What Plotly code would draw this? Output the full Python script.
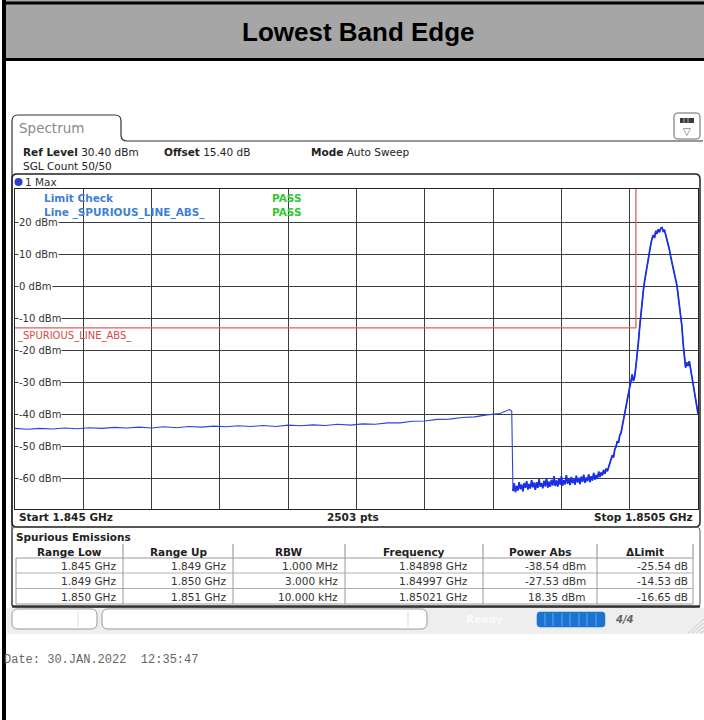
import plotly.graph_objects as go

# ---------------- data ----------------
start_mhz = 1845.0
stop_mhz = 1850.5
ref_level_dbm = 30.4
range_db = 100.0
y_grid_levels = [20, 10, 0, -10, -20, -30, -40, -50, -60]
y_grid_labels = ["20 dBm", "10 dBm", "0 dBm", "-10 dBm", "-20 dBm",
                 "-30 dBm", "-40 dBm", "-50 dBm", "-60 dBm"]

# trace, segment 1 : 1.845 .. 1.849 GHz (RBW 1 MHz)
seg1_mhz = [1845.0, 1845.1, 1845.2, 1845.3, 1845.4, 1845.5, 1845.6, 1845.7, 1845.8, 1845.9,
            1846.0, 1846.1, 1846.2, 1846.3, 1846.4, 1846.5, 1846.6, 1846.7, 1846.8, 1846.9,
            1847.0, 1847.1, 1847.2, 1847.3, 1847.4, 1847.5, 1847.6, 1847.7, 1847.8, 1847.9,
            1848.0, 1848.1, 1848.2, 1848.3, 1848.4, 1848.5, 1848.6, 1848.7, 1848.8, 1848.9,
            1848.98, 1849.0]
seg1_dbm = [-44.4, -44.7, -44.4, -44.6, -44.3, -44.5, -44.2, -44.4, -44.1, -44.3,
            -44.0, -44.3, -43.9, -44.2, -43.8, -44.0, -43.7, -43.9, -43.6, -43.8,
            -43.5, -43.8, -43.4, -43.6, -43.3, -43.5, -43.1, -43.4, -43.0, -43.1,
            -42.7, -42.7, -42.2, -42.1, -41.6, -41.5, -41.0, -40.8, -40.2, -39.8,
            -38.54, -39.0]

# trace, segment 2 : 1.849 .. 1.8498 GHz (RBW 3 kHz noise floor)
seg2_mhz = [1849.01, 1849.02, 1849.03, 1849.04, 1849.05, 1849.06, 1849.07, 1849.08, 1849.09, 1849.10,
            1849.11, 1849.12, 1849.13, 1849.14, 1849.15, 1849.16, 1849.17, 1849.18, 1849.19, 1849.20,
            1849.21, 1849.22, 1849.23, 1849.24, 1849.25, 1849.26, 1849.27, 1849.28, 1849.29, 1849.30,
            1849.31, 1849.32, 1849.33, 1849.34, 1849.35, 1849.36, 1849.37, 1849.38, 1849.39, 1849.40,
            1849.41, 1849.42, 1849.43, 1849.44, 1849.45, 1849.46, 1849.47, 1849.48, 1849.49, 1849.50,
            1849.51, 1849.52, 1849.53, 1849.54, 1849.55, 1849.56, 1849.57, 1849.58, 1849.59, 1849.60,
            1849.61, 1849.62, 1849.63, 1849.64, 1849.65, 1849.66, 1849.67, 1849.68, 1849.69, 1849.70,
            1849.71, 1849.72, 1849.73, 1849.74, 1849.75, 1849.76, 1849.77]
seg2_dbm = [-64.0, -61.6, -64.3, -62.4, -63.8, -61.2, -63.4, -62.0, -64.1, -61.5,
            -63.0, -60.9, -63.5, -61.8, -63.2, -60.6, -62.8, -61.4, -63.6, -61.2,
            -63.0, -60.3, -62.6, -61.5, -63.1, -60.8, -62.5, -60.0, -62.9, -61.1,
            -62.7, -60.5, -62.2, -59.3, -62.4, -60.7, -62.6, -60.0, -62.0, -59.4,
            -62.3, -60.6, -61.9, -59.0, -61.7, -60.2, -62.1, -59.6, -61.5, -60.3,
            -62.0, -59.2, -61.3, -59.9, -61.8, -59.5, -61.1, -58.9, -61.4, -59.8,
            -60.9, -58.8, -61.2, -59.4, -60.7, -58.3, -60.4, -59.0, -60.2, -57.9,
            -59.6, -58.2, -59.1, -57.4, -58.6, -57.0, -57.8]

# trace, segment 3 : 1.8498 .. 1.8505 GHz (carrier)
seg3_mhz = [1849.78, 1849.79, 1849.80, 1849.81, 1849.82, 1849.83, 1849.84, 1849.85, 1849.86, 1849.87,
            1849.88, 1849.89, 1849.90, 1849.91, 1849.92, 1849.93, 1849.94, 1849.95, 1849.96, 1849.97,
            1849.98, 1849.99, 1850.00, 1850.01, 1850.02, 1850.03, 1850.04, 1850.05, 1850.06, 1850.07,
            1850.08, 1850.09, 1850.10, 1850.11, 1850.12, 1850.13, 1850.14, 1850.15, 1850.16, 1850.17,
            1850.18, 1850.19, 1850.20, 1850.21, 1850.22, 1850.23, 1850.24, 1850.25, 1850.26, 1850.27,
            1850.28, 1850.29, 1850.30, 1850.31, 1850.32, 1850.33, 1850.34, 1850.35, 1850.36, 1850.37,
            1850.38, 1850.39, 1850.40, 1850.41, 1850.42, 1850.43, 1850.44, 1850.45, 1850.46, 1850.47,
            1850.48, 1850.49, 1850.50]
seg3_dbm = [-56.5, -55.2, -54.6, -52.8, -53.5, -50.9, -50.2, -48.4, -48.9, -46.5,
            -45.8, -43.6, -42.1, -39.8, -38.2, -35.6, -33.1, -31.5, -29.8, -27.53,
            -29.6, -28.2, -25.0, -21.8, -17.5, -12.9, -8.6, -4.7, -1.3, 1.6,
            4.2, 6.9, 9.0, 11.6, 13.2, 14.9, 16.0, 15.1, 17.3, 16.4,
            17.8, 16.9, 18.1, 18.35, 17.2, 17.6, 16.0, 15.2, 13.6, 11.4,
            9.3, 7.2, 5.6, 3.9, 2.1, 0.4, -2.6, -5.1, -8.9, -12.4,
            -17.8, -23.2, -25.4, -23.8, -24.9, -23.4, -25.8, -27.9, -29.6, -32.4,
            -34.8, -37.6, -39.8]

# limit line _SPURIOUS_LINE_ABS_
limit_mhz = [1845.0, 1850.0, 1850.0, 1850.5]
limit_dbm = [-13.0, -13.0, 45.0, 45.0]

# spurious emissions table
table_header = ["Range Low", "Range Up", "RBW", "Frequency", "Power Abs", "\u0394Limit"]
range_low = ["1.845 GHz", "1.849 GHz", "1.850 GHz"]
range_up = ["1.849 GHz", "1.850 GHz", "1.851 GHz"]
rbw = ["1.000 MHz", "3.000 kHz", "10.000 kHz"]
peak_freq = ["1.84898 GHz", "1.84997 GHz", "1.85021 GHz"]
power_abs = ["-38.54 dBm", "-27.53 dBm", "18.35 dBm"]
delta_limit = ["-25.54 dB", "-14.53 dB", "-16.65 dB"]

# ---------------- layout helpers (pixel -> paper) ----------------
W, H = 704, 720
def X(px): return px / W
def Y(py): return 1 - py / H

shapes, ann = [], []
FONT = "DejaVu Sans"

def rect(x0, y0, x1, y1, fill=None, line=None, lw=1.0):
    shapes.append(dict(type="rect", xref="paper", yref="paper",
                       x0=X(x0), x1=X(x1), y0=Y(y1), y1=Y(y0),
                       fillcolor=fill or "rgba(0,0,0,0)",
                       line=dict(color=line or "rgba(0,0,0,0)", width=lw if line else 0),
                       layer="above"))

def seg(x0, y0, x1, y1, color, lw=1.0):
    shapes.append(dict(type="line", xref="paper", yref="paper",
                       x0=X(x0), x1=X(x1), y0=Y(y0), y1=Y(y1),
                       line=dict(color=color, width=lw), layer="above"))

def path(d, fill=None, line="#444", lw=1.0):
    shapes.append(dict(type="path", xref="paper", yref="paper", path=d,
                       fillcolor=fill or "rgba(0,0,0,0)",
                       line=dict(color=line, width=lw), layer="above"))

def P(x, y): return f"{X(x):.6f},{Y(y):.6f}"

def rrect(x0, y0, x1, y1, r):
    return (f"M {P(x0+r,y0)} L {P(x1-r,y0)} Q {P(x1,y0)} {P(x1,y0+r)} "
            f"L {P(x1,y1-r)} Q {P(x1,y1)} {P(x1-r,y1)} L {P(x0+r,y1)} "
            f"Q {P(x0,y1)} {P(x0,y1-r)} L {P(x0,y0+r)} Q {P(x0,y0)} {P(x0+r,y0)} Z")

def txt(x, y, s, size=10.5, color="#222", xanchor="left", family=FONT, bg=None):
    d = dict(x=X(x), y=Y(y), xref="paper", yref="paper", text=s, showarrow=False,
             xanchor=xanchor, yanchor="middle", borderpad=0,
             font=dict(family=family, size=size, color=color))
    if bg:
        d["bgcolor"] = bg
    ann.append(d)

# ---------------- page decoration ----------------
# title band
rect(2.5, 0, 704, 60, fill="#a6a6a6")
rect(2.5, 1.5, 704, 4.5, fill="#000000")
rect(2.5, 58, 704, 61, fill="#000000")
rect(2, 0, 6, 720, fill="#000000")
txt(359, 32, "<b>Lowest Band Edge</b>", size=26, color="#000000",
    xanchor="center", family="Liberation Sans")

# Spectrum tab + container
path(f"M {P(12,606)} L {P(12,121)} Q {P(12,115)} {P(18,115)} L {P(115,115)} "
     f"Q {P(121,115)} {P(121,121)} L {P(121,135)} Q {P(121,141)} {P(127,141)} L {P(703,141)}",
     fill=None, line="#333", lw=1.2)
txt(18, 128, "Spectrum", size=13.5, color="#8a8a8a")

# icon top right
path(rrect(674, 113, 700, 139, 4), fill="#ffffff", line="#666", lw=1)
rect(680, 118, 694, 123, fill="#3a3a3a")
seg(684, 118, 684, 123, "#cfcfcf", 0.8)
seg(688, 118, 688, 123, "#cfcfcf", 0.8)
txt(687, 131, "\u25bd", size=10, color="#555", xanchor="center")

# header texts
txt(22, 152, "<b>Ref Level</b> 30.40 dBm")
txt(163, 152, "<b>Offset</b> 15.40 dB")
txt(310, 152, "<b>Mode</b> Auto Sweep")
txt(22, 166, "SGL Count 50/50")

# diagram frame
path(rrect(12, 174, 700, 527, 5), fill=None, line="#222", lw=1.5)
shapes.append(dict(type="circle", xref="paper", yref="paper",
                   x0=X(14.5), x1=X(22.5), y0=Y(186), y1=Y(178),
                   fillcolor="#2a3fc8", line=dict(color="#2a3fc8", width=0), layer="above"))
txt(24, 182, "1 Max", size=10.5, color="#333")

# legend / limit check
txt(43, 198, "<b>Limit Check</b>", color="#3f7fd6")
txt(43, 212, "<b>Line _SPURIOUS_LINE_ABS_</b>", color="#3f7fd6")
txt(271, 198, "<b>PASS</b>", color="#33c633")
txt(271, 212, "<b>PASS</b>", color="#33c633")

# y labels on grid lines
def level_to_py(v):
    return 189 + (ref_level_dbm - v) * 320.0 / range_db
for v, lab in zip(y_grid_levels, y_grid_labels):
    txt(18, level_to_py(v), lab, size=10, color="#333", bg="#ffffff")
txt(16, level_to_py(-13) + 8, "_SPURIOUS_LINE_ABS_", size=10, color="#d24a4a")

# footer of diagram
txt(18, 517, "<b>Start 1.845 GHz</b>")
txt(353, 517, "<b>2503 pts</b>", xanchor="center")
txt(694, 517, "<b>Stop 1.8505 GHz</b>", xanchor="right")

# ---------------- table ----------------
path(rrect(12, 527, 700, 607, 4), fill=None, line="#555", lw=1)
seg(12, 606.5, 700, 606.5, "#333", 2.5)
txt(15, 537, "<b>Spurious Emissions</b>")
col_edges = [16, 123, 233, 345, 483, 597, 693]
for xe in col_edges[1:]:
    seg(xe, 544, xe, 558, "#888", 1)
for i, h in enumerate(table_header):
    txt((col_edges[i] + col_edges[i + 1]) / 2, 551.5, f"<b>{h}</b>", xanchor="center")
rect(16, 558, 693, 604, line="#9a9a9a", lw=1)
seg(16, 573, 693, 573, "#b0b0b0", 1)
seg(16, 588.5, 693, 588.5, "#b0b0b0", 1)
for xe in col_edges[1:-1]:
    seg(xe, 558, xe, 604, "#9a9a9a", 1)
right_edges = [117, 227, 339, 469, 587, 689]
row_y = [566, 581, 596.5]
columns = [range_low, range_up, rbw, peak_freq, power_abs, delta_limit]
for c, col in enumerate(columns):
    for r, val in enumerate(col):
        txt(right_edges[c], row_y[r], val, color="#333", xanchor="right")

# ---------------- status bar ----------------
rect(7, 608, 704, 634, fill="#eeeeee")
path(rrect(12, 609, 97, 629, 6), fill="#ffffff", line="#9a9a9a", lw=1)
seg(78, 611, 78, 627, "#dddddd", 1)
path(rrect(102, 609, 427, 629, 6), fill="#ffffff", line="#9a9a9a", lw=1)
seg(408, 611, 408, 627, "#dddddd", 1)
txt(484, 619, "<b>Ready</b>", size=10.5, color="#fafafa", xanchor="center")
path(rrect(537, 612, 605, 627, 3), fill="#1a74d2", line="#1a74d2", lw=0.5)
for xs in [545, 553, 562, 570, 579, 587, 596]:
    seg(xs, 613, xs, 626, "#7fb3ea", 0.8)
txt(624, 619, "<b><i>4/4</i></b>", size=10, color="#666", xanchor="center")
for k in range(4):
    seg(688 + 4 * k, 633, 704, 619 + 4 * k, "#c8c8c8", 0.8)

# date
txt(3, 660, "Date: 30.JAN.2022\u00a0\u00a012:35:47", size=12, color="#666",
    family="Liberation Mono")

# ---------------- traces ----------------
trace_mhz = seg1_mhz + seg2_mhz + seg3_mhz
trace_dbm = seg1_dbm + seg2_dbm + seg3_dbm
narrow_mhz = seg2_mhz + seg3_mhz
narrow_dbm = seg2_dbm + seg3_dbm

fig = go.Figure()
fig.add_trace(go.Scatter(x=limit_mhz, y=limit_dbm, mode="lines",
                         line=dict(color="#de5f5f", width=1.3), hoverinfo="skip"))
fig.add_trace(go.Scatter(x=trace_mhz, y=trace_dbm, mode="lines",
                         line=dict(color="#2a44dc", width=1.1), hoverinfo="skip"))
fig.add_trace(go.Scatter(x=narrow_mhz, y=narrow_dbm, mode="lines",
                         line=dict(color="#1a2ee8", width=1.7), hoverinfo="skip"))

span = stop_mhz - start_mhz
x_grid = [start_mhz + k * span / 10 for k in range(1, 10)]

fig.update_layout(
    width=W, height=H, autosize=False,
    margin=dict(l=0, r=0, t=0, b=0, pad=0),
    paper_bgcolor="#ffffff", plot_bgcolor="#ffffff",
    showlegend=False,
    shapes=shapes, annotations=ann,
    xaxis=dict(domain=[X(15), X(698)], range=[start_mhz, stop_mhz],
               tickvals=x_grid, showticklabels=False, ticks="",
               showgrid=True, gridcolor="#3c3c3c", gridwidth=1,
               zeroline=False, showline=True, linecolor="#222", linewidth=1.2,
               mirror=True, fixedrange=True),
    yaxis=dict(domain=[Y(509), Y(189)],
               range=[ref_level_dbm - range_db, ref_level_dbm],
               tickvals=y_grid_levels, showticklabels=False, ticks="",
               showgrid=True, gridcolor="#3c3c3c", gridwidth=1,
               zeroline=False, showline=True, linecolor="#222", linewidth=1.2,
               mirror=True, fixedrange=True),
)

fig.write_html("out.html", config={"displayModeBar": False},
               post_script="document.body.style.margin='0';document.body.style.overflow='hidden';")
